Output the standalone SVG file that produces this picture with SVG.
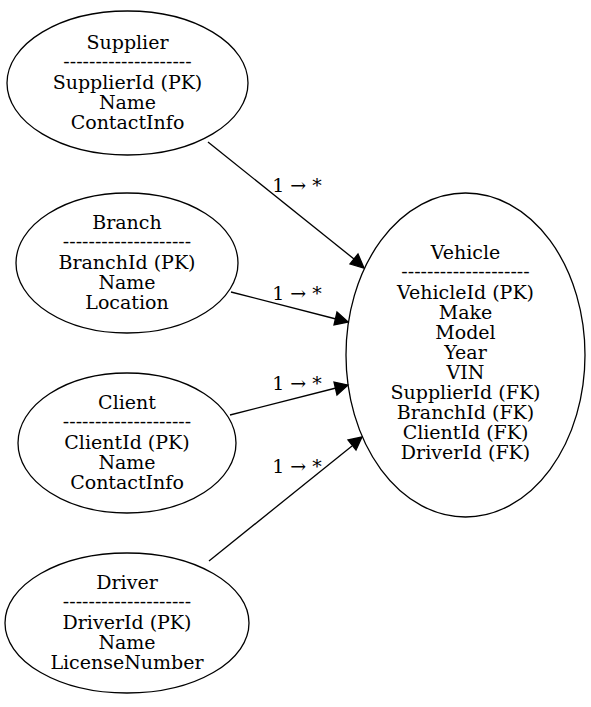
<svg xmlns="http://www.w3.org/2000/svg" width="591" height="707" viewBox="0 0 591 707">
<style>
.n ellipse{fill:none;stroke:#000;stroke-width:1.3}
text{font-family:"DejaVu Serif","Liberation Serif",serif;font-size:19px;text-anchor:middle;fill:#000}
.e path{fill:none;stroke:#000;stroke-width:1.3}
.e polygon{fill:#000;stroke:#000;stroke-width:1.3}
</style>
<rect width="591" height="707" fill="#fff"/>
<g id="Supplier" class="n">
<ellipse cx="127.5" cy="83" rx="120.5" ry="72"/>
<text x="127.5" y="49">Supplier</text>
<text x="127.5" y="68">--------------------</text>
<text x="127.5" y="89">SupplierId (PK)</text>
<text x="127.5" y="109">Name</text>
<text x="127.5" y="129">ContactInfo</text>
</g>
<g id="Branch" class="n">
<ellipse cx="127" cy="263" rx="111" ry="70"/>
<text x="127" y="229">Branch</text>
<text x="127" y="248">--------------------</text>
<text x="127" y="269">BranchId (PK)</text>
<text x="127" y="289">Name</text>
<text x="127" y="309">Location</text>
</g>
<g id="Client" class="n">
<ellipse cx="127" cy="443" rx="109" ry="70"/>
<text x="127" y="409">Client</text>
<text x="127" y="428">--------------------</text>
<text x="127" y="449">ClientId (PK)</text>
<text x="127" y="469">Name</text>
<text x="127" y="489">ContactInfo</text>
</g>
<g id="Driver" class="n">
<ellipse cx="127" cy="623" rx="122" ry="70"/>
<text x="127" y="589">Driver</text>
<text x="127" y="608">--------------------</text>
<text x="127" y="629">DriverId (PK)</text>
<text x="127" y="649">Name</text>
<text x="127" y="669">LicenseNumber</text>
</g>
<g id="Vehicle" class="n">
<ellipse cx="465.5" cy="355" rx="119.5" ry="162"/>
<text x="465.5" y="259">Vehicle</text>
<text x="465.5" y="278">--------------------</text>
<text x="465.5" y="299">VehicleId (PK)</text>
<text x="465.5" y="319">Make</text>
<text x="465.5" y="339">Model</text>
<text x="465.5" y="359">Year</text>
<text x="465.5" y="379">VIN</text>
<text x="465.5" y="399">SupplierId (FK)</text>
<text x="465.5" y="419">BranchId (FK)</text>
<text x="465.5" y="439">ClientId (FK)</text>
<text x="465.5" y="459">DriverId (FK)</text>
</g>
<g id="edges" class="e">
<path d="M208,142 L354,259"/>
<polygon points="364,268 350,264 358,254"/>
<text x="297" y="192">1 → *</text>
<path d="M231,292 L336,319"/>
<polygon points="348,322 334,325 337,312"/>
<text x="297" y="300">1 → *</text>
<path d="M230,415 L336,388"/>
<polygon points="348,385 337,395 334,382"/>
<text x="297" y="390">1 → *</text>
<path d="M209,561 L352,446"/>
<polygon points="362,437 356,450 348,440"/>
<text x="297" y="473">1 → *</text>
</g>
</svg>
